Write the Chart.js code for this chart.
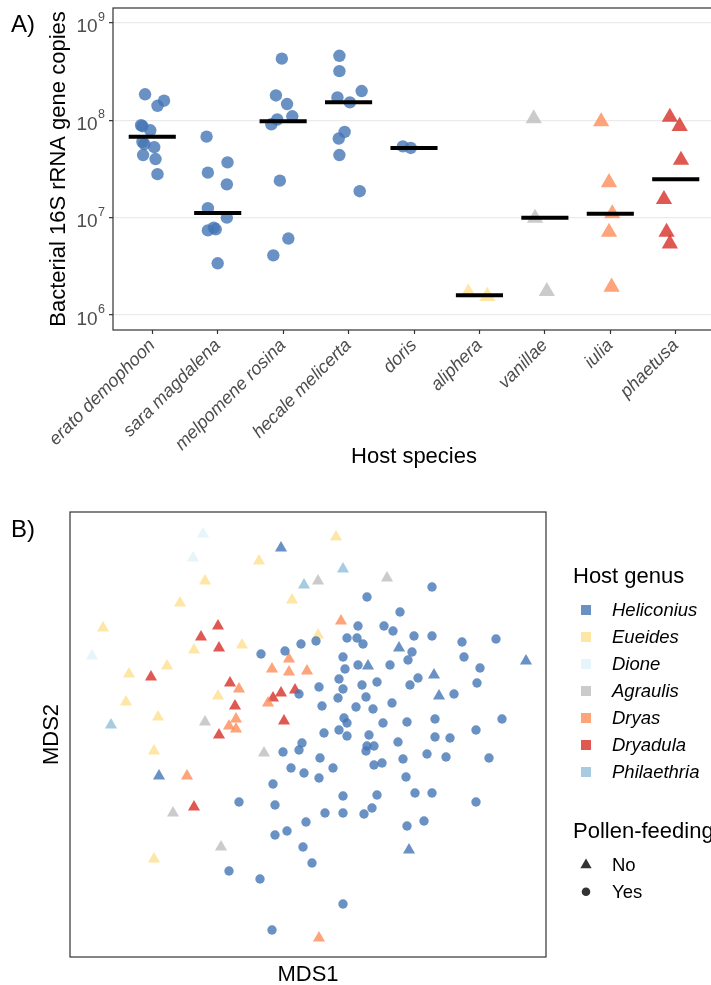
<!DOCTYPE html>
<html>
<head>
<meta charset="utf-8">
<script src="https://cdn.jsdelivr.net/npm/chart.js@4.4.1/dist/chart.umd.min.js"></script>
<style>
  html, body { margin: 0; padding: 0; background: #fff; width: 711px; height: 985px; overflow: hidden; }
  #chartA { position: absolute; left: 0; top: 0; }
  #chartB { position: absolute; left: 0; top: 480px; }
</style>
</head>
<body>
<canvas id="chartA" width="720" height="480"></canvas>
<canvas id="chartB" width="711" height="505"></canvas>
<script>
// ---- Panel A data: 16S copies per host species ----
const species = ["erato demophoon", "sara magdalena", "melpomene rosina", "hecale melicerta",
                 "doris", "aliphera", "vanillae", "iulia", "phaetusa"];
const speciesGenus = ["Heliconius", "Heliconius", "Heliconius", "Heliconius",
                      "Heliconius", "Eueides", "Agraulis", "Dryas", "Dryadula"];
const speciesPollen = ["Yes", "Yes", "Yes", "Yes", "Yes", "No", "No", "No", "No"];

const copies = [
  [1.85e8, 1.59e8, 1.41e8, 8.7e7, 7.9e7, 6.0e7, 5.7e7, 5.3e7, 4.4e7, 4.0e7, 2.8e7, 8.9e7],
  [6.8e7, 2.9e7, 3.7e7, 2.2e7, 1.25e7, 1.0e7, 7.4e6, 7.9e6, 7.6e6, 3.4e6],
  [4.3e8, 1.8e8, 1.47e8, 1.1e8, 1.02e8, 9.1e7, 2.4e7, 6.1e6, 4.1e6],
  [4.6e8, 3.2e8, 1.72e8, 1.53e8, 2.0e8, 7.6e7, 6.5e7, 4.4e7, 1.87e7],
  [5.4e7, 5.2e7],
  [1.69e6, 1.56e6],
  [1.04e8, 9.9e6, 1.75e6],
  [9.7e7, 2.3e7, 1.1e7, 7.1e6, 1.94e6],
  [1.08e8, 8.7e7, 3.9e7, 1.54e7, 7.1e6, 5.4e6]
];
// horizontal jitter of each point, in category units
const jitter = [
  [-0.11, 0.18, 0.08, -0.15, -0.03, -0.15, -0.12, 0.03, -0.14, 0.05, 0.08, -0.17],
  [-0.17, -0.15, 0.15, 0.14, -0.15, 0.14, -0.15, -0.06, -0.03, 0.0],
  [-0.02, -0.11, 0.06, 0.14, -0.09, -0.18, -0.05, 0.08, -0.15],
  [-0.14, -0.14, -0.17, 0.02, 0.20, -0.06, -0.15, -0.14, 0.17],
  [-0.17, -0.05],
  [-0.17, 0.12],
  [-0.17, -0.15, 0.03],
  [-0.14, -0.02, 0.03, -0.02, 0.02],
  [-0.09, 0.06, 0.08, -0.18, -0.14, -0.09]
];
const medians = [6.8e7, 1.12e7, 9.8e7, 1.53e8, 5.2e7, 1.6e6, 1.0e7, 1.1e7, 2.48e7];
const yTickValues = [1e6, 1e7, 1e8, 1e9];

// ---- Panel B data: MDS ordination ----
const genera = ["Heliconius", "Eueides", "Dione", "Agraulis", "Dryas", "Dryadula", "Philaethria"];
const genusColors = ["rgba(69,117,180,0.8)", "rgba(254,224,144,0.8)", "rgba(224,243,248,0.8)",
                     "rgba(190,190,190,0.8)", "rgba(252,141,89,0.8)", "rgba(215,48,39,0.8)",
                     "rgba(145,191,219,0.8)"];

const heliconiusYesX = [-0.47,-0.23,-0.07,1.24,0.59,0.92,0.50,0.76,0.85,1.06,
  1.24,1.54,1.88,0.08,0.39,0.49,0.55,1.04,0.35,1.00,
  1.56,0.37,0.50,0.82,1.72,1.10,0.31,0.11,0.35,0.54,
  0.69,1.02,1.69,-0.09,0.30,0.58,1.46,0.14,0.48,0.65,
  0.84,0.36,0.39,0.75,0.99,1.27,1.94,0.16,0.31,0.39,
  0.61,0.90,1.27,1.42,1.68,-0.06,-0.09,-0.25,0.59,0.66,
  0.58,0.12,0.95,1.19,1.38,1.81,-0.17,-0.04,0.25,0.66,
  0.74,0.11,0.98,-0.35,0.35,0.69,1.07,1.24,1.68,-0.69,
  -0.33,0.17,0.35,0.56,0.64,-0.02,0.99,1.16,-0.21,-0.33,
  -0.05,0.04,-0.79,-0.48,0.35,-0.36];
const heliconiusYesY = [0.81,0.84,0.91,1.48,1.38,1.23,1.09,1.09,1.04,0.99,
  0.99,0.93,0.96,0.94,0.97,0.97,0.91,0.83,0.78,0.75,
  0.78,0.66,0.70,0.70,0.67,0.57,0.56,0.48,0.46,0.50,
  0.53,0.50,0.52,0.41,0.37,0.38,0.41,0.29,0.28,0.26,
  0.32,0.17,0.12,0.12,0.13,0.16,0.16,0.02,0.05,-0.01,
  0.00,-0.07,-0.02,-0.03,0.05,-0.08,-0.15,-0.17,-0.11,-0.11,
  -0.16,-0.23,-0.24,-0.19,-0.22,-0.23,-0.33,-0.38,-0.33,-0.30,
  -0.28,-0.43,-0.42,-0.49,-0.61,-0.60,-0.58,-0.58,-0.67,-0.67,
  -0.70,-0.78,-0.78,-0.79,-0.73,-0.87,-0.91,-0.86,-0.96,-1.00,
  -1.12,-1.28,-1.36,-1.44,-1.69,-1.95];

const heliconiusNoX = [-0.27, 0.91, 2.18, 0.60, 1.26, 1.31, -1.49, 1.01];
const heliconiusNoY = [1.87, 0.87, 0.74, 0.69, 0.60, 0.39, -0.41, -1.15];
const eueidesX = [0.28, -0.49, -1.03, -1.28, -0.16, -2.05, -1.14, -0.66, -1.41, -1.79, 0.10, -1.82, -0.90, -1.50, -1.54, -1.54];
const eueidesY = [1.98, 1.74, 1.54, 1.32, 1.35, 1.07, 0.85, 0.90, 0.69, 0.61, 1.00, 0.33, 0.39, 0.18, -0.16, -1.24];
const dioneX = [-1.05, -1.15, -2.16];
const dioneY = [2.01, 1.77, 0.79];
const agraulisX = [0.10, 0.79, -1.03, -0.44, -1.35, -0.87];
const agraulisY = [1.54, 1.57, 0.13, -0.18, -0.78, -1.12];
const dryasX = [-0.19, -0.36, -0.19, -0.01, 0.33, -0.69, -0.40, -0.72, -0.79, -0.72, -1.21, 0.11];
const dryasY = [0.76, 0.66, 0.63, 0.64, 1.14, 0.46, 0.32, 0.16, 0.09, 0.06, -0.41, -2.03];
const dryadulaX = [-0.90, -1.07, -0.89, -1.57, -0.78, -0.73, -0.27, -0.13, -0.35, -0.89, -0.24, -1.14];
const dryadulaY = [1.09, 0.98, 0.87, 0.58, 0.52, 0.29, 0.42, 0.45, 0.37, 0.00, 0.14, -0.72];
const philaethriaX = [-0.04, 0.35, -1.97];
const philaethriaY = [1.50, 1.66, 0.10];

const pollenLevels = ["No", "Yes"];

Chart.defaults.font.family = '"Liberation Sans", Arial, sans-serif';
Chart.defaults.animation = false;

const FONT = '"Liberation Sans", Arial, sans-serif';
const colorOf = (g) => genusColors[genera.indexOf(g)];
const zip = (xs, ys) => xs.map((x, i) => ({ x: x, y: ys[i] }));

// strokes the full panel border
const frame = {
  id: "frame",
  afterDraw(chart) {
    const { ctx, chartArea: a } = chart;
    ctx.save();
    ctx.strokeStyle = "#333";
    ctx.lineWidth = 1.2;
    ctx.strokeRect(a.left, a.top, a.right - a.left, a.bottom - a.top);
    ctx.restore();
  }
};

// ---------------- Panel A ----------------
const medianSets = species.map((s, i) => ({
  data: [{ x: i + 1 - 0.36, y: medians[i] }, { x: i + 1 + 0.36, y: medians[i] }],
  showLine: true,
  borderColor: "#000",
  borderWidth: 4,
  pointRadius: 0,
  order: -1
}));

const pointSets = species.map((s, i) => {
  const circle = speciesPollen[i] === "Yes";
  return {
    data: copies[i].map((v, j) => ({ x: i + 1 + jitter[i][j], y: v })),
    pointStyle: circle ? "circle" : "triangle",
    pointRadius: circle ? 6.2 : 9.4,
    backgroundColor: colorOf(speciesGenus[i]),
    borderWidth: 0
  };
});

const labelsA = {
  id: "labelsA",
  afterDraw(chart) {
    const { ctx, chartArea: a } = chart;
    const ys = chart.scales.y;
    ctx.save();
    // y tick labels 10^n
    ctx.fillStyle = "#4d4d4d";
    ctx.textAlign = "right";
    ctx.textBaseline = "alphabetic";
    yTickValues.forEach((v) => {
      const py = ys.getPixelForValue(v);
      const exp = String(Math.round(Math.log10(v)));
      ctx.font = "12.5px " + FONT;
      const ew = ctx.measureText(exp).width;
      ctx.fillText(exp, 105, py - 2);
      ctx.font = "19px " + FONT;
      ctx.fillText("10", 105 - ew - 0.5, py + 9.5);
    });
    // axis titles
    ctx.fillStyle = "#000";
    ctx.font = "22px " + FONT;
    ctx.textAlign = "center";
    ctx.fillText("Host species", (a.left + a.right) / 2, 463);
    ctx.save();
    ctx.translate(65, (a.top + a.bottom) / 2);
    ctx.rotate(-Math.PI / 2);
    ctx.fillText("Bacterial 16S rRNA gene copies", 0, 0);
    ctx.restore();
    ctx.textAlign = "left";
    ctx.font = "24px " + FONT;
    ctx.fillText("A)", 11, 32);
    ctx.restore();
  }
};

new Chart(document.getElementById("chartA"), {
  type: "scatter",
  data: { datasets: medianSets.concat(pointSets) },
  options: {
    responsive: false,
    devicePixelRatio: 1,
    layout: { autoPadding: false, padding: { top: 8, right: 5, left: 0, bottom: 0 } },
    plugins: { legend: { display: false }, tooltip: { enabled: false } },
    scales: {
      x: {
        type: "linear",
        min: 0.4,
        max: 9.6,
        afterBuildTicks: (scale) => { scale.ticks = species.map((s, i) => ({ value: i + 1 })); },
        afterFit: (scale) => { scale.height = 150; },
        border: { display: false },
        grid: { drawOnChartArea: false, drawTicks: true, tickLength: 4, tickColor: "#333", tickWidth: 1.2 },
        ticks: {
          autoSkip: false,
          minRotation: 45,
          maxRotation: 45,
          padding: 1,
          color: "#4d4d4d",
          font: { size: 18, style: "italic" },
          callback: (v, i) => species[i]
        }
      },
      y: {
        type: "logarithmic",
        min: Math.pow(10, 5.846),
        max: Math.pow(10, 9.154),
        afterBuildTicks: (scale) => { scale.ticks = yTickValues.map((v) => ({ value: v })); },
        afterFit: (scale) => { scale.width = 113; },
        border: { display: false },
        grid: { color: "#ebebeb", lineWidth: 1.3, drawTicks: true, tickLength: 4, tickColor: "#333", tickWidth: 1.2 },
        ticks: { display: false }
      }
    }
  },
  plugins: [frame, labelsA]
});

// ---------------- Panel B ----------------
const groupsB = [
  { genus: "Heliconius", pollen: "Yes", xs: heliconiusYesX, ys: heliconiusYesY },
  { genus: "Heliconius", pollen: "No", xs: heliconiusNoX, ys: heliconiusNoY },
  { genus: "Eueides", pollen: "No", xs: eueidesX, ys: eueidesY },
  { genus: "Dione", pollen: "No", xs: dioneX, ys: dioneY },
  { genus: "Agraulis", pollen: "No", xs: agraulisX, ys: agraulisY },
  { genus: "Dryas", pollen: "No", xs: dryasX, ys: dryasY },
  { genus: "Dryadula", pollen: "No", xs: dryadulaX, ys: dryadulaY },
  { genus: "Philaethria", pollen: "No", xs: philaethriaX, ys: philaethriaY }
];

const legendB = {
  id: "legendB",
  afterDraw(chart) {
    const { ctx, chartArea: a } = chart;
    ctx.save();
    ctx.fillStyle = "#000";
    ctx.textBaseline = "alphabetic";
    ctx.font = "24px " + FONT;
    ctx.fillText("B)", 11, 57);
    ctx.font = "22px " + FONT;
    ctx.textAlign = "center";
    ctx.fillText("MDS1", (a.left + a.right) / 2, 501);
    ctx.save();
    ctx.translate(58, (a.top + a.bottom) / 2);
    ctx.rotate(-Math.PI / 2);
    ctx.fillText("MDS2", 0, 0);
    ctx.restore();

    // Host genus legend
    ctx.textAlign = "left";
    ctx.fillText("Host genus", 573, 103);
    genera.forEach((g, i) => {
      const cy = 130 + i * 27;
      ctx.fillStyle = genusColors[i];
      ctx.fillRect(581, cy - 5, 10, 10);
      ctx.fillStyle = "#000";
      ctx.font = "italic 18.5px " + FONT;
      ctx.textBaseline = "middle";
      ctx.fillText(g, 612, cy + 1);
    });

    // Pollen-feeding legend
    ctx.textBaseline = "alphabetic";
    ctx.font = "22px " + FONT;
    ctx.fillText("Pollen-feeding", 573, 358);
    pollenLevels.forEach((p, i) => {
      const cy = 385 + i * 26.7;
      ctx.fillStyle = "#333";
      ctx.beginPath();
      if (p === "No") {
        const r = 6.5;
        ctx.moveTo(586, cy - r);
        ctx.lineTo(586 + r * 0.866, cy + r / 2);
        ctx.lineTo(586 - r * 0.866, cy + r / 2);
        ctx.closePath();
      } else {
        ctx.arc(586, cy, 4.3, 0, Math.PI * 2);
      }
      ctx.fill();
      ctx.fillStyle = "#000";
      ctx.font = "18.5px " + FONT;
      ctx.textBaseline = "middle";
      ctx.fillText(p, 612, cy + 1);
    });
    ctx.restore();
  }
};

new Chart(document.getElementById("chartB"), {
  type: "scatter",
  data: {
    datasets: groupsB.map((g) => ({
      label: g.genus + " " + g.pollen,
      data: zip(g.xs, g.ys),
      pointStyle: g.pollen === "Yes" ? "circle" : "triangle",
      pointRadius: g.pollen === "Yes" ? 4.7 : 7,
      backgroundColor: colorOf(g.genus),
      borderWidth: 0
    }))
  },
  options: {
    responsive: false,
    devicePixelRatio: 1,
    layout: { autoPadding: false, padding: { top: 32, right: 165, left: 70, bottom: 28 } },
    plugins: { legend: { display: false }, tooltip: { enabled: false } },
    scales: {
      x: { type: "linear", display: false, min: -2.38, max: 2.38 },
      y: { type: "linear", display: false, min: -2.22, max: 2.23 }
    }
  },
  plugins: [frame, legendB]
});
</script>
</body>
</html>
